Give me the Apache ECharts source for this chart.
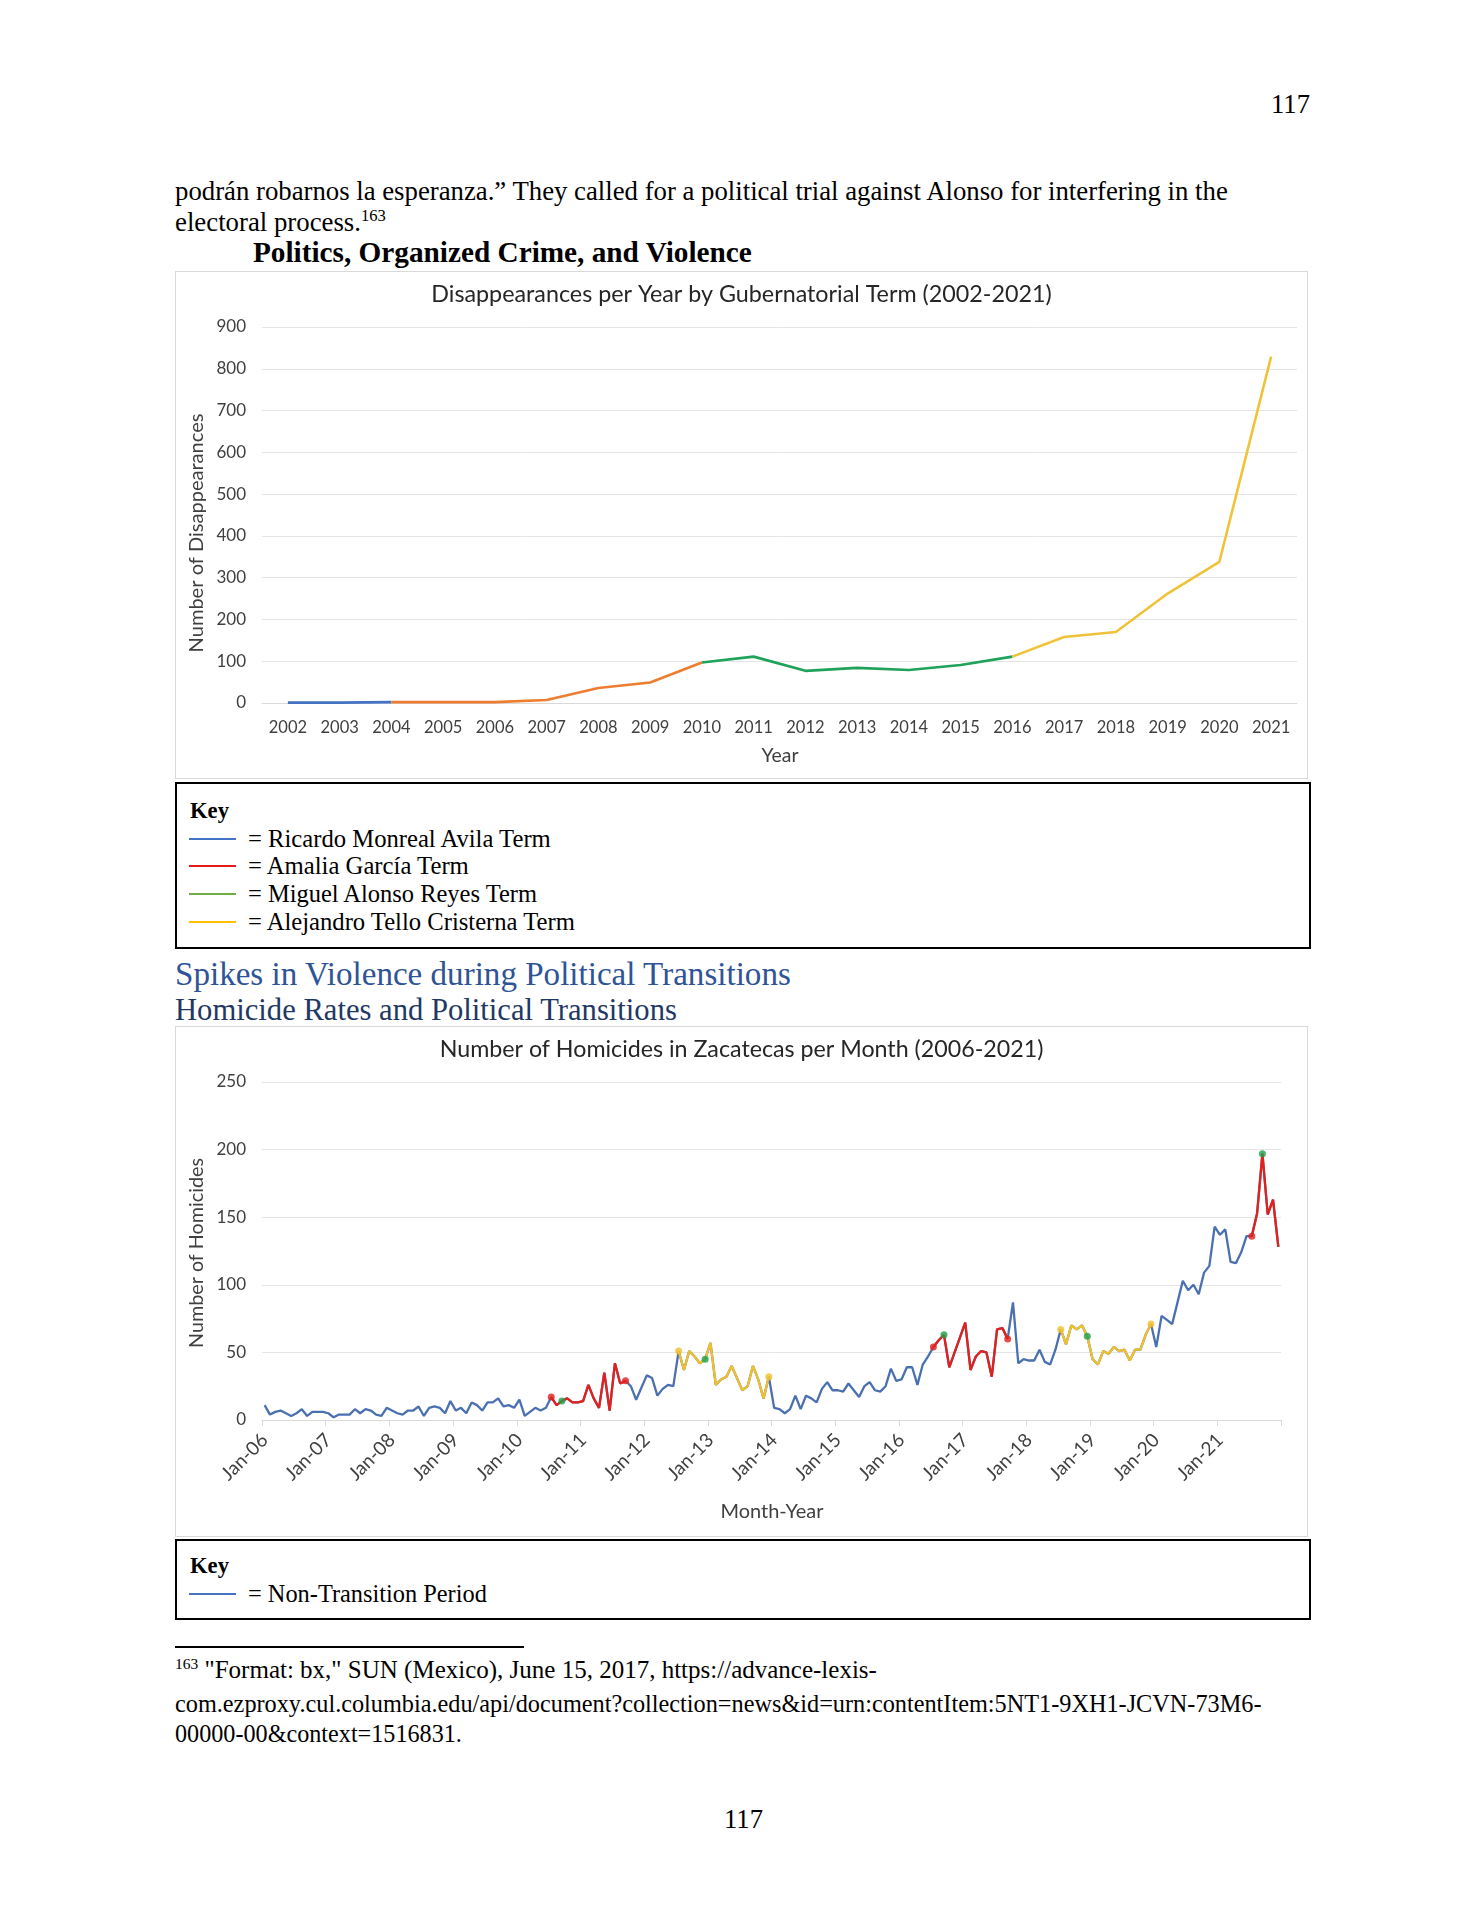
<!DOCTYPE html>
<html><head><meta charset="utf-8">
<script src="https://cdn.jsdelivr.net/npm/echarts@6/dist/echarts.min.js"></script>
<style>
body{margin:0;background:#fff;}
#page{position:relative;width:1484px;height:1920px;background:#fff;overflow:hidden;font-family:"Liberation Serif","Times New Roman",serif;color:#000;}
.t{position:absolute;white-space:nowrap;line-height:1;transform:translateY(-50%);}
.t sup{font-size:0.62em;vertical-align:0.55em;line-height:0;}
.box{position:absolute;box-sizing:border-box;}
.ln{position:absolute;height:2px;}
.chart{position:absolute;box-sizing:border-box;border:1px solid #d9d9d9;background:#fff;}
</style></head><body><div id="page">

<div class="t" data-l="1271" data-w="39" data-c="104">117</div>
<div class="t" data-l="175" data-w="1053" data-c="191">podrán robarnos la esperanza.” They called for a political trial against Alonso for interfering in the</div>
<div class="t" data-l="175" data-w="211" data-c="222">electoral process.<sup>163</sup></div>
<div class="t" data-l="253" data-w="499" data-c="253" style="font-weight:bold">Politics, Organized Crime, and Violence</div>

<div id="c1" class="chart" style="left:175px;top:271px;width:1133px;height:508px;"></div>

<div class="box" style="left:175px;top:782px;width:1136px;height:167px;border:2.5px solid #000;"></div>
<div class="t" data-l="190" data-w="39" data-c="811" style="font-weight:bold">Key</div>
<div class="ln" style="left:189px;width:47px;top:838px;background:#4472C4"></div>
<div class="t" data-l="248" data-w="303" data-c="839">= Ricardo Monreal Avila Term</div>
<div class="ln" style="left:189px;width:47px;top:865px;background:#E31A1C"></div>
<div class="t" data-l="248" data-w="221" data-c="866">= Amalia García Term</div>
<div class="ln" style="left:189px;width:47px;top:893px;background:#70AD47"></div>
<div class="t" data-l="248" data-w="289" data-c="894">= Miguel Alonso Reyes Term</div>
<div class="ln" style="left:189px;width:47px;top:921px;background:#FFC000"></div>
<div class="t" data-l="248" data-w="327" data-c="922">= Alejandro Tello Cristerna Term</div>

<div class="t" data-l="175" data-w="616" data-c="975" style="color:#2F5496">Spikes in Violence during Political Transitions</div>
<div class="t" data-l="175" data-w="502" data-c="1010" style="color:#1F3864">Homicide Rates and Political Transitions</div>

<div id="c2" class="chart" style="left:175px;top:1026px;width:1133px;height:511px;"></div>

<div class="box" style="left:175px;top:1539px;width:1136px;height:81px;border:2.5px solid #000;"></div>
<div class="t" data-l="190" data-w="39" data-c="1566" style="font-weight:bold">Key</div>
<div class="ln" style="left:189px;width:47px;top:1593px;background:#4472C4"></div>
<div class="t" data-l="248" data-w="239" data-c="1594">= Non-Transition Period</div>

<div class="box" style="left:175px;top:1646px;width:349px;height:1.5px;background:#000;"></div>
<div class="t" data-l="175" data-w="702" data-c="1669"><sup>163</sup> "Format: bx," SUN (Mexico), June 15, 2017, https://advance-lexis-</div>
<div class="t" data-l="175" data-w="1087" data-c="1704">com.ezproxy.cul.columbia.edu/api/document?collection=news&amp;id=urn:contentItem:5NT1-9XH1-JCVN-73M6-</div>
<div class="t" data-l="175" data-w="287" data-c="1734">00000-00&amp;context=1516831.</div>

<div class="t" data-l="724" data-w="39" data-c="1819">117</div>
</div>
<script>
// ---------- Data: disappearances per year ----------
var years = ['2002','2003','2004','2005','2006','2007','2008','2009','2010','2011','2012','2013','2014','2015','2016','2017','2018','2019','2020','2021'];
var disappearances = [1,1,2,2,2,7,36,49,97,111,77,84,79,91,111,158,170,262,338,829];
var termMonreal = [0,2];
var termGarcia = [2,8];
var termAlonso = [8,14];
var termTello = [14,19];

// ---------- Data: homicides per month ----------
var monthAbbr = ['Jan','Feb','Mar','Apr','May','Jun','Jul','Aug','Sep','Oct','Nov','Dec'];
var monthYears = ['06','07','08','09','10','11','12','13','14','15','16','17','18','19','20','21'];
var h2006 = [11,4,6,7,5,3,5,8,3,6,6,6];
var h2007 = [5,2,4,4,4,8,5,8,7,4,3,9];
var h2008 = [7,5,4,7,7,10,3,9,10,9,5,14];
var h2009 = [7,9,5,13,11,7,13,13,16,10,11,9];
var h2010 = [15,3,6,9,7,9,17,11,14,16,13,13];
var h2011 = [14,26,16,9,35,7,42,27,29,25,15,24];
var h2012 = [33,31,18,23,26,25,51,37,51,47,42,45];
var h2013 = [57,26,30,32,40,31,22,25,40,30,16,32];
var h2014 = [9,8,5,8,18,8,18,16,13,23,28,22];
var h2015 = [22,21,27,22,17,25,28,22,21,25,38,29];
var h2016 = [30,39,39,26,41,47,54,59,63,39,50,61];
var h2017 = [72,37,47,51,50,32,67,68,60,87,42,45];
var h2018 = [44,44,52,43,41,52,67,56,70,67,70,62];
var h2019 = [45,41,51,49,54,51,52,44,52,52,63,71];
var h2020 = [54,77,74,71,87,103,96,100,93,109,114,143];
var h2021 = [137,141,117,116,124,136,136,153,197,152,163,128];
var redRanges = [[54,68],[126,140],[186,191]];
var yellowRanges = [[78,95],[150,167]];
var redDots = [54,68,126,140,186];
var yellowDots = [78,95,150,167];
var greenDots = [56,83,128,155,188];

// ---------- text fitting ----------
document.querySelectorAll('.t').forEach(function(el){
  var base = 24;
  el.style.fontSize = base + 'px';
  el.style.left = el.dataset.l + 'px';
  el.style.top = el.dataset.c + 'px';
  var w = el.getBoundingClientRect().width;
  el.style.fontSize = (base * (+el.dataset.w) / w) + 'px';
});

function fitSize(text, family, target){
  var c = document.createElement('canvas').getContext('2d');
  c.font = '100px ' + family;
  return 100 * target / c.measureText(text).width;
}

var FONT = 'Lato';
var homicides = [].concat(h2006,h2007,h2008,h2009,h2010,h2011,h2012,h2013,h2014,h2015,h2016,h2017,h2018,h2019,h2020,h2021);
var months = [];
monthYears.forEach(function(y){ monthAbbr.forEach(function(m){ months.push(m + '-' + y); }); });

function segment(arr, ranges){
  return arr.map(function(v,i){
    for (var k=0;k<ranges.length;k++){ if(i>=ranges[k][0] && i<=ranges[k][1]) return v; }
    return null;
  });
}
function dots(arr, idx){ return idx.map(function(i){ return [i, arr[i]]; }); }

// ---------- chart 1 ----------
var t1 = 'Disappearances per Year by Gubernatorial Term (2002-2021)';
var c1 = echarts.init(document.getElementById('c1'));
c1.setOption({
  animation:false,
  textStyle:{fontFamily:FONT},
  grid:{left:86,right:10,top:55,bottom:75},
  title:{text:t1,left:'center',top:6,textStyle:{fontFamily:FONT,fontWeight:'normal',fontSize:fitSize(t1,FONT,621),color:'#262626'}},
  xAxis:{type:'category',data:years,boundaryGap:true,
    axisLine:{lineStyle:{color:'#d9d9d9',width:1}},axisTick:{show:false},
    axisLabel:{color:'#404040',fontSize:16.5,margin:16,fontFamily:FONT}},
  yAxis:{type:'value',min:0,max:900,interval:100,
    axisLine:{show:false},axisTick:{show:false},
    splitLine:{lineStyle:{color:'#e4e4e4',width:1}},
    axisLabel:{color:'#404040',fontSize:17,margin:16,fontFamily:FONT}},
  graphic:[
    {type:'text',x:21,y:261,rotation:Math.PI/2,style:{text:'Number of Disappearances',fontFamily:FONT,fontSize:fitSize('Number of Disappearances',FONT,239),fill:'#404040',align:'center',verticalAlign:'middle'}},
    {type:'text',x:604,y:484,style:{text:'Year',fontFamily:FONT,fontSize:fitSize('Year',FONT,37),fill:'#404040',align:'center',verticalAlign:'middle'}}
  ],
  series:[
    {type:'line',data:segment(disappearances,[termMonreal]),symbol:'none',lineStyle:{color:'#4472C4',width:2.6},z:3},
    {type:'line',data:segment(disappearances,[termGarcia]),symbol:'none',lineStyle:{color:'#ED7D31',width:2.6},z:3},
    {type:'line',data:segment(disappearances,[termAlonso]),symbol:'none',lineStyle:{color:'#1FA25A',width:2.6},z:3},
    {type:'line',data:segment(disappearances,[termTello]),symbol:'none',lineStyle:{color:'#F0C239',width:2.6},z:3}
  ]
});

// ---------- chart 2 ----------
var t2 = 'Number of Homicides in Zacatecas per Month (2006-2021)';
var c2 = echarts.init(document.getElementById('c2'));
c2.setOption({
  animation:false,
  textStyle:{fontFamily:FONT},
  grid:{left:86,right:26,top:55,bottom:116},
  title:{text:t2,left:'center',top:6,textStyle:{fontFamily:FONT,fontWeight:'normal',fontSize:fitSize(t2,FONT,604),color:'#262626'}},
  xAxis:{type:'category',data:months,boundaryGap:true,
    axisLine:{lineStyle:{color:'#d9d9d9',width:1}},
    axisTick:{show:true,interval:11,length:6,lineStyle:{color:'#d9d9d9'}},
    axisLabel:{interval:11,rotate:45,color:'#404040',fontSize:19,margin:17,fontFamily:FONT}},
  yAxis:{type:'value',min:0,max:250,interval:50,
    axisLine:{show:false},axisTick:{show:false},
    splitLine:{lineStyle:{color:'#e4e4e4',width:1}},
    axisLabel:{color:'#404040',fontSize:17,margin:16,fontFamily:FONT}},
  graphic:[
    {type:'text',x:21,y:226,rotation:Math.PI/2,style:{text:'Number of Homicides',fontFamily:FONT,fontSize:fitSize('Number of Homicides',FONT,190),fill:'#404040',align:'center',verticalAlign:'middle'}},
    {type:'text',x:596,y:485,style:{text:'Month-Year',fontFamily:FONT,fontSize:fitSize('Month-Year',FONT,103),fill:'#404040',align:'center',verticalAlign:'middle'}}
  ],
  series:[
    {type:'line',data:homicides,symbol:'none',lineStyle:{color:'#4A70B0',width:2.3},z:2},
    {type:'line',data:segment(homicides,redRanges),symbol:'none',lineStyle:{color:'#E3211C',width:2.3},z:3},
    {type:'line',data:segment(homicides,yellowRanges),symbol:'none',lineStyle:{color:'#F0C12E',width:2.3},z:3},
    {type:'scatter',data:dots(homicides,redDots),symbolSize:7,itemStyle:{color:'#E3211C'},z:5},
    {type:'scatter',data:dots(homicides,yellowDots),symbolSize:7,itemStyle:{color:'#F0C12E'},z:5},
    {type:'scatter',data:dots(homicides,greenDots),symbolSize:7,itemStyle:{color:'#1FA04A'},z:5}
  ]
});
</script>
</body></html>
